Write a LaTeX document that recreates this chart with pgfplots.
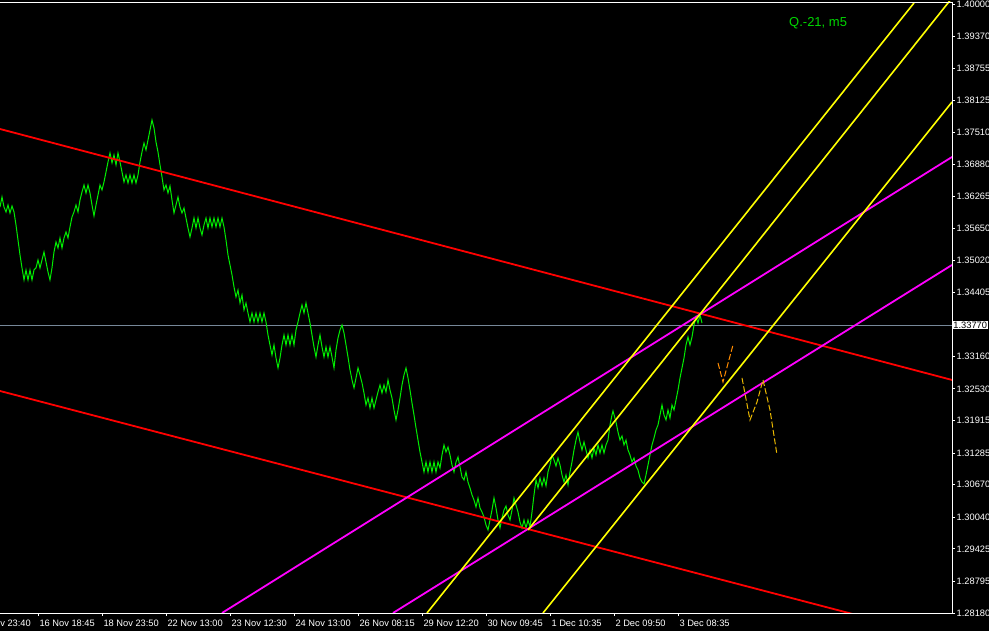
\documentclass[border=0pt]{standalone}
\usepackage{pgfplots}
\pgfplotsset{compat=1.18}
\usepackage{fontspec}
\setmainfont{Liberation Sans}
\definecolor{mtgreen}{RGB}{0,235,0}
\definecolor{mtred}{RGB}{255,0,0}
\definecolor{mtyellow}{RGB}{255,255,0}
\definecolor{mtmagenta}{RGB}{255,0,255}
\definecolor{mtgrey}{RGB}{119,136,153}
\definecolor{mtorange}{RGB}{255,140,0}
\definecolor{mtgold}{RGB}{235,185,0}
\definecolor{mttext}{RGB}{0,215,0}
\begin{document}
\begin{tikzpicture}
\fill[black] (0,0) rectangle (989pt,631pt);
\begin{axis}[
  at={(0pt,18pt)}, anchor=south west,
  scale only axis, width=952pt, height=611pt,
  xmin=0, xmax=952, ymin=1.28180, ymax=1.40039,
  axis line style={draw=none},
  tick align=outside, major tick length=3pt,
  tick style={white, line width=0.8pt},
  xtick pos=bottom, ytick pos=right, yticklabel pos=right,
  ticklabel style={text=white, font=\fontsize{9.3}{10}\selectfont},
  xtick={38.3,102.3,166.3,230.3,294.3,358.3,422.3,486.3,550.3,614.3,678.3},
  xticklabels={16 Nov 18:45,18 Nov 23:50,22 Nov 13:00,23 Nov 12:30,24 Nov 13:00,26 Nov 08:15,29 Nov 12:20,30 Nov 09:45,1 Dec 10:35,2 Dec 09:50,3 Dec 08:35},
  xticklabel style={anchor=north west, inner sep=0pt, xshift=1pt, yshift=-4pt},
  ytick={1.28180,1.28795,1.29425,1.30040,1.30670,1.31285,1.31915,1.32530,1.33160,1.34405,1.35020,1.35650,1.36265,1.36880,1.37510,1.38125,1.38755,1.39370,1.40000},
  yticklabels={1.28180,1.28795,1.29425,1.30040,1.30670,1.31285,1.31915,1.32530,1.33160,1.34405,1.35020,1.35650,1.36265,1.36880,1.37510,1.38125,1.38755,1.39370,1.40000},
  yticklabel style={anchor=west, inner sep=0pt, xshift=1.5pt},
]
% current price line
\addplot[mtgrey, line width=0.8pt] coordinates {(0,1.33770) (952,1.33770)};
% price
\addplot[mtgreen, line width=1pt] coordinates {
(0,1.36060)(2,1.36254)(4,1.36060)(6,1.35963)(8,1.36099)(10,1.35944)(12,1.36080)(14,1.35963)(16,1.35711)(18,1.35420)
(20,1.35129)(22,1.34877)(24,1.34644)(26,1.34838)(28,1.34644)(30,1.34838)(32,1.34644)(34,1.34838)(36,1.34877)(38,1.35032)
(40,1.34877)(42,1.35032)(44,1.35187)(46,1.34993)(48,1.34799)(50,1.34644)(52,1.34877)(54,1.35187)(56,1.35381)(58,1.35265)
(60,1.35459)(62,1.35265)(64,1.35459)(66,1.35575)(68,1.35459)(70,1.35672)(72,1.35866)(74,1.35963)(76,1.36099)(78,1.35963)
(80,1.36196)(82,1.36351)(84,1.36487)(86,1.36332)(88,1.36487)(90,1.36332)(92,1.36099)(94,1.35886)(96,1.36099)(98,1.36293)
(100,1.36487)(102,1.36390)(104,1.36545)(106,1.36740)(108,1.36934)(110,1.37109)(112,1.36915)(114,1.37070)(116,1.36876)(118,1.37109)
(120,1.36934)(122,1.36740)(124,1.36545)(126,1.36682)(128,1.36526)(130,1.36682)(132,1.36526)(134,1.36682)(136,1.36526)(138,1.36682)
(140,1.36934)(142,1.37128)(144,1.37303)(146,1.37167)(148,1.37361)(150,1.37555)(152,1.37749)(154,1.37594)(156,1.37322)(158,1.37128)
(160,1.36876)(162,1.36643)(164,1.36390)(166,1.36487)(168,1.36332)(170,1.36468)(172,1.36196)(174,1.35944)(176,1.36099)(178,1.36254)
(180,1.36060)(182,1.35944)(184,1.36041)(186,1.35847)(188,1.35653)(190,1.35478)(192,1.35653)(194,1.35847)(196,1.35653)(198,1.35847)
(200,1.35653)(202,1.35517)(204,1.35711)(206,1.35847)(208,1.35653)(210,1.35847)(212,1.35672)(214,1.35847)(216,1.35672)(218,1.35847)
(220,1.35672)(222,1.35847)(224,1.35672)(226,1.35420)(228,1.35129)(230,1.34935)(232,1.34741)(234,1.34508)(236,1.34313)(238,1.34449)
(240,1.34197)(242,1.34352)(244,1.34061)(246,1.34197)(248,1.34003)(250,1.33828)(252,1.34003)(254,1.33828)(256,1.34003)(258,1.33828)
(260,1.34003)(262,1.33828)(264,1.34003)(266,1.33828)(268,1.33576)(270,1.33382)(272,1.33188)(274,1.33382)(276,1.33130)(278,1.32936)
(280,1.33130)(282,1.33382)(284,1.33576)(286,1.33382)(288,1.33576)(290,1.33382)(292,1.33576)(294,1.33382)(296,1.33673)(298,1.33828)
(300,1.34003)(302,1.34158)(304,1.34003)(306,1.34197)(308,1.34003)(310,1.33809)(312,1.33576)(314,1.33343)(316,1.33149)(318,1.33382)
(320,1.33576)(322,1.33343)(324,1.33149)(326,1.33343)(328,1.33149)(330,1.33343)(332,1.33149)(334,1.32936)(336,1.33285)(338,1.33518)
(340,1.33673)(342,1.33770)(344,1.33615)(346,1.33382)(348,1.33149)(350,1.32897)(352,1.32703)(354,1.32548)(356,1.32742)(358,1.32936)
(360,1.32800)(362,1.32645)(364,1.32450)(366,1.32217)(368,1.32353)(370,1.32159)(372,1.32353)(374,1.32159)(376,1.32314)(378,1.32469)
(380,1.32606)(382,1.32450)(384,1.32606)(386,1.32469)(388,1.32703)(390,1.32508)(392,1.32353)(394,1.32120)(396,1.31926)(398,1.32120)
(400,1.32353)(402,1.32606)(404,1.32800)(406,1.32936)(408,1.32742)(410,1.32508)(412,1.32256)(414,1.32023)(416,1.31771)(418,1.31538)
(420,1.31305)(422,1.31111)(424,1.30917)(426,1.31111)(428,1.30917)(430,1.31111)(432,1.30917)(434,1.31111)(436,1.30917)(438,1.31111)
(440,1.30995)(442,1.31247)(444,1.31441)(446,1.31305)(448,1.31402)(450,1.31247)(452,1.31053)(454,1.30917)(456,1.31111)(458,1.31208)
(460,1.31014)(462,1.30820)(464,1.30762)(466,1.30917)(468,1.30723)(470,1.30607)(472,1.30471)(474,1.30373)(476,1.30237)(478,1.30413)
(480,1.30218)(482,1.30140)(484,1.30043)(486,1.29888)(488,1.29791)(490,1.29985)(492,1.30179)(494,1.30413)(496,1.30218)(498,1.29985)
(500,1.29830)(502,1.30024)(504,1.30179)(506,1.30257)(508,1.30082)(510,1.29985)(512,1.30179)(514,1.30413)(516,1.30276)(518,1.30140)
(520,1.29946)(522,1.29830)(524,1.29985)(526,1.29830)(528,1.29985)(530,1.29849)(532,1.30140)(534,1.30471)(536,1.30762)(538,1.30607)
(540,1.30801)(542,1.30646)(544,1.30801)(546,1.30646)(548,1.30917)(550,1.31053)(552,1.31247)(554,1.31150)(556,1.31034)(558,1.31189)
(560,1.31053)(562,1.30859)(564,1.30723)(566,1.30859)(568,1.30665)(570,1.30917)(572,1.31111)(574,1.31344)(576,1.31538)(578,1.31693)
(580,1.31499)(582,1.31344)(584,1.31499)(586,1.31344)(588,1.31189)(590,1.31344)(592,1.31189)(594,1.31383)(596,1.31247)(598,1.31441)
(600,1.31286)(602,1.31441)(604,1.31286)(606,1.31441)(608,1.31538)(610,1.31829)(612,1.32023)(613,1.32101)(616,1.31887)(618,1.31693)
(620,1.31538)(622,1.31616)(624,1.31441)(626,1.31538)(628,1.31344)(630,1.31247)(632,1.31111)(634,1.31189)(636,1.31034)(638,1.30956)
(640,1.30801)(642,1.30723)(644,1.30684)(646,1.30859)(648,1.31053)(650,1.31247)(652,1.31441)(654,1.31577)(656,1.31732)(658,1.31829)
(660,1.32023)(662,1.32217)(664,1.32023)(666,1.31926)(668,1.32120)(670,1.31965)(672,1.32217)(674,1.32120)(676,1.32314)(678,1.32508)
(680,1.32742)(682,1.32936)(684,1.33130)(686,1.33382)(688,1.33537)(690,1.33382)(692,1.33537)(694,1.33770)(696,1.33925)(698,1.33809)
(700,1.33964)(702,1.33809)
};
% red channel
\addplot[mtred, line width=1.8pt] coordinates {(0,1.37574) (952,1.32703)};
\addplot[mtred, line width=1.8pt] coordinates {(0,1.32489) (952,1.27656)};
% magenta channel
\addplot[mtmagenta, line width=1.8pt] coordinates {(222,1.28180) (952,1.37031)};
\addplot[mtmagenta, line width=1.8pt] coordinates {(393,1.28180) (952,1.34935)};
% yellow channel
\addplot[mtyellow, line width=1.6pt] coordinates {(427,1.28180) (914,1.40020)};
\addplot[mtyellow, line width=1.6pt] coordinates {(528,1.29791) (952,1.40117)};
\addplot[mtyellow, line width=1.6pt] coordinates {(543,1.28180) (952,1.38098)};
% projection
\addplot[mtorange, line width=1pt, dash pattern=on 6pt off 2.5pt] coordinates {(718,1.33033) (723,1.32664) (733,1.33382)};
\addplot[mtgold, line width=1pt, dash pattern=on 6pt off 2.5pt] coordinates {(742,1.32742) (750,1.31926) (757,1.32275) (763,1.32703) (770,1.32120) (777,1.31247)};
\coordinate (pl) at (axis cs:952,1.33770);
\coordinate (t0) at (axis cs:-25.7,1.28180);
\end{axis}
% frame
\draw[white, line width=0.8pt] (0pt,629pt) -- (952pt,629pt) -- (952pt,18pt) -- (0pt,18pt);
\node[fill=white, text=black, inner sep=0.7pt, anchor=west, font=\fontsize{9.3}{10}\selectfont] at ([xshift=0.5pt]pl) {1.33770};
\node[anchor=north west, inner sep=0pt, text=white, font=\fontsize{9.3}{10}\selectfont] at ([xshift=1pt,yshift=-7pt]t0) {15 Nov 23:40};
\node[anchor=west, inner sep=0pt, text=mttext, font=\fontsize{13}{14}\selectfont] at (789pt,608pt) {Q.-21, m5};
\pgfresetboundingbox
\path[use as bounding box] (0,0) rectangle (989pt,631pt);
\end{tikzpicture}
\end{document}
